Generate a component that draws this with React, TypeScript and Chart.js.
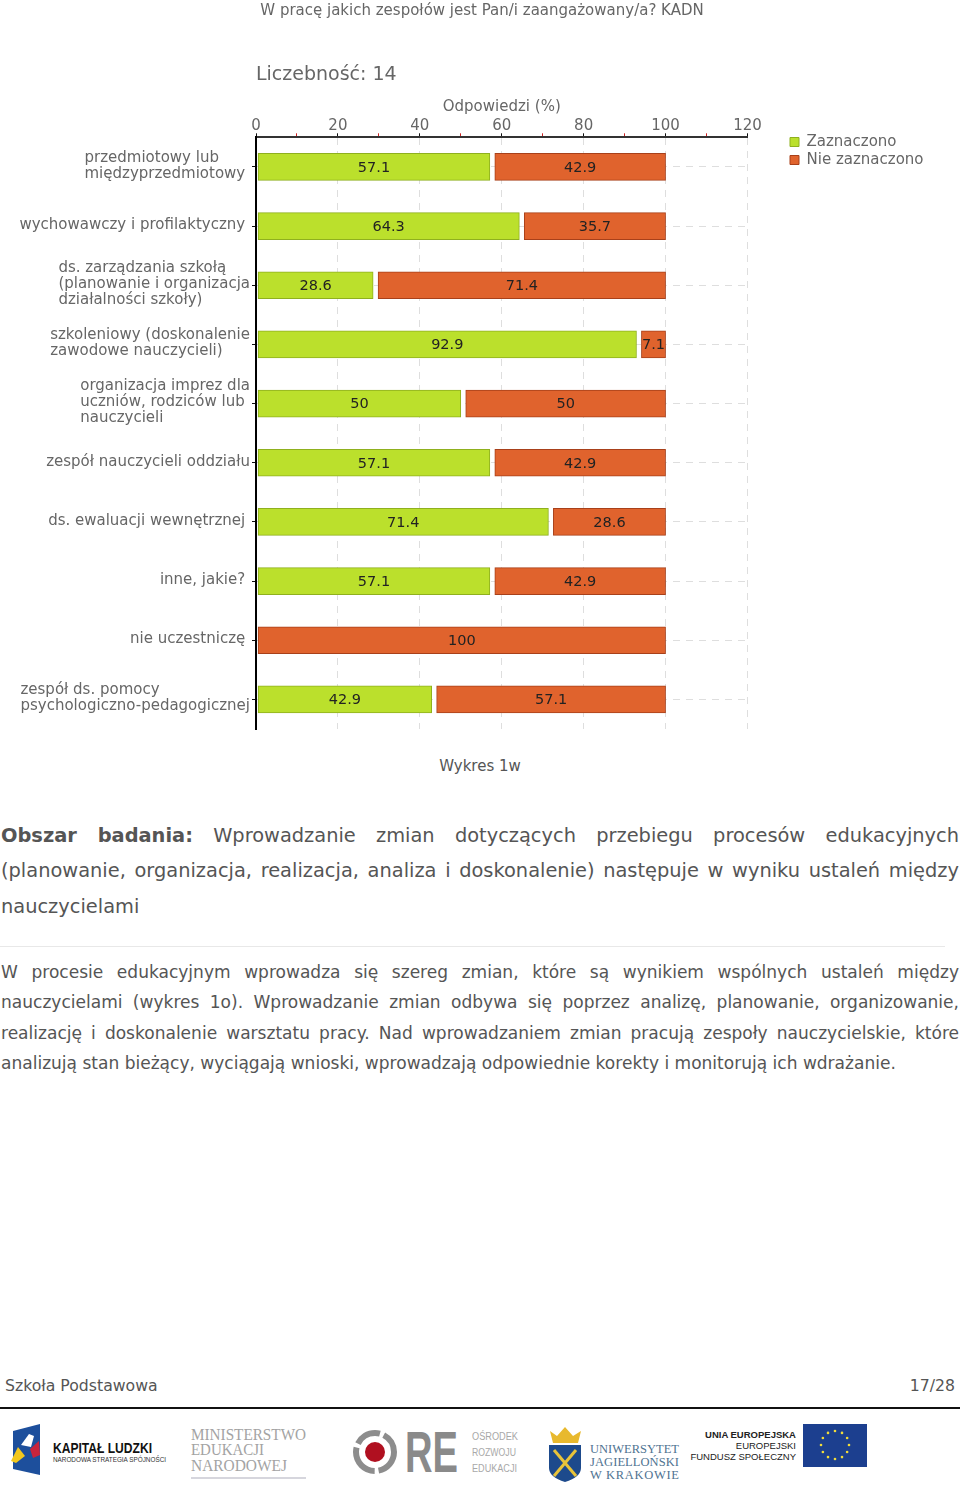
import React, { useEffect, useRef } from "react";
import { Chart, registerables } from "chart.js";

Chart.register(...registerables);

const chartTitle = "W pracę jakich zespołów jest Pan/i zaangażowany/a? KADN";
const countLabel = "Liczebność: 14";
const axisTitle = "Odpowiedzi (%)";
const categories: string[][] = [
  ["przedmiotowy lub", "międzyprzedmiotowy "],
  ["wychowawczy i profilaktyczny "],
  ["ds. zarządzania szkołą", "(planowanie i organizacja", "działalności szkoły)"],
  ["szkoleniowy (doskonalenie", "zawodowe nauczycieli)"],
  ["organizacja imprez dla", "uczniów, rodziców lub", "nauczycieli"],
  ["zespół nauczycieli oddziału"],
  ["ds. ewaluacji wewnętrznej "],
  ["inne, jakie? "],
  ["nie uczestniczę "],
  ["zespół ds. pomocy", "psychologiczno-pedagogicznej"],
];
const checked = [57.1, 64.3, 28.6, 92.9, 50, 57.1, 71.4, 57.1, 0, 42.9];
const unchecked = [42.9, 35.7, 71.4, 7.1, 50, 42.9, 28.6, 42.9, 100, 57.1];
const seriesNames = ["Zaznaczono", "Nie zaznaczono"];
const FONT = "'DejaVu Sans'";
const TEXT = "#666666";
const START_GAP = 0.5;
const MID_GAP = 1.2;

const caption = "Wykres 1w";
const headLines = [
  ["Obszar badania:", " Wprowadzanie zmian dotyczących przebiegu procesów edukacyjnych"],
  ["", "(planowanie, organizacja, realizacja, analiza i doskonalenie) następuje w wyniku ustaleń między"],
  ["", "nauczycielami"],
];
const bodyLines = [
  "W procesie edukacyjnym wprowadza się szereg zmian, które są wynikiem wspólnych ustaleń między",
  "nauczycielami (wykres 1o). Wprowadzanie zmian odbywa się poprzez analizę, planowanie, organizowanie,",
  "realizację i doskonalenie warsztatu pracy. Nad wprowadzaniem zmian pracują zespoły nauczycielskie, które",
  "analizują stan bieżący, wyciągają wnioski, wprowadzają odpowiednie korekty i monitorują ich wdrażanie.",
];

const placeBlocks = {
  id: "placeBlocks",
  afterLayout(chart: any) {
    if (chart.legend) {
      chart.legend.left = 787;
      chart.legend.right = 960;
      chart.legend.width = 173;
      chart.legend.top = 131.5;
    }
    if (chart.titleBlock) {
      chart.titleBlock.left = 0;
      chart.titleBlock.right = 964;
    }
  },
};

const categoryLabels = {
  id: "categoryLabels",
  afterDraw(chart: any) {
    const { ctx } = chart;
    const y = chart.scales.y;
    ctx.save();
    ctx.font = `15px ${FONT}`;
    ctx.fillStyle = TEXT;
    ctx.textBaseline = "middle";
    ctx.textAlign = "left";
    (chart.data.labels as string[][]).forEach((lines, i) => {
      const w = Math.max(...lines.map((l) => ctx.measureText(l).width));
      const left = 250 - w;
      const cy = y.getPixelForValue(i);
      lines.forEach((l, j) => {
        ctx.fillText(l, left, cy + (j - (lines.length - 1) / 2) * 16 - 1);
      });
    });
    ctx.restore();
  },
};

const valueLabels = {
  id: "valueLabels",
  afterDatasetsDraw(chart: any) {
    const { ctx } = chart;
    ctx.save();
    ctx.font = `14.5px ${FONT}`;
    ctx.fillStyle = "#222222";
    ctx.textAlign = "center";
    ctx.textBaseline = "middle";
    chart.data.datasets.forEach((ds: any, di: number) => {
      chart.getDatasetMeta(di).data.forEach((bar: any, i: number) => {
        const v = ds.values[i];
        if (!v) return;
        const p = bar.getProps(["x", "y", "base"], true);
        ctx.fillText(String(v), (p.x + p.base) / 2, p.y + 1);
      });
    });
    ctx.restore();
  },
};

function lineStyle(top: number, size: number): React.CSSProperties {
  return {
    position: "absolute",
    left: 1,
    width: 958,
    top,
    height: size * 1.4,
    lineHeight: `${size * 1.4}px`,
    fontSize: size,
    whiteSpace: "normal",
    textAlign: "justify",
    textAlignLast: "justify",
  };
}

const euStars = Array.from({ length: 12 }, (_, i) => i * 30);

function Logos() {
  const fit = "spacingAndGlyphs";
  return (
    <svg width={960} height={90} viewBox="0 1406 960 90" style={{ position: "absolute", left: 0, top: 1406 }}>
      <polygon points="13,1431 40,1424 40,1475 13,1469" fill="#1d4f9c" />
      <polygon points="29,1434 34,1436 31,1447 21,1445" fill="#ffffff" />
      <polygon points="11,1461 18,1447 25,1456 16,1463" fill="#f2c81e" />
      <polygon points="30,1449 39,1441 40,1455 33,1458" fill="#c8243c" />
      <text x={53} y={1453} fontFamily="'Liberation Sans'" fontWeight="700" fontSize={14.5} fill="#111" textLength={99} lengthAdjust={fit}>KAPITAŁ LUDZKI</text>
      <text x={53} y={1462} fontFamily="'Liberation Sans'" fontSize={7} fill="#333" textLength={113} lengthAdjust={fit}>NARODOWA STRATEGIA SPÓJNOŚCI</text>

      <g fontFamily="'Liberation Serif'" fontSize={17} fill="#a3a3a3">
        <text x={191} y={1440} textLength={115} lengthAdjust={fit}>MINISTERSTWO</text>
        <text x={191} y={1455} textLength={73} lengthAdjust={fit}>EDUKACJI</text>
        <text x={191} y={1471} textLength={96} lengthAdjust={fit}>NARODOWEJ</text>
      </g>
      <line x1={191} x2={306} y1={1478} y2={1478} stroke="#c9c9d2" strokeWidth={1.5} />

      <circle cx={375} cy={1452} r={19} fill="none" stroke="#8d8d8d" strokeWidth={6} strokeDasharray="26 4 34 4 26 4" />
      <circle cx={375} cy={1452} r={10} fill="#b01020" />
      <text x={405} y={1472} fontFamily="'Liberation Sans'" fontWeight="700" fontSize={57} fill="#8a8a8a" textLength={53} lengthAdjust={fit}>RE</text>
      <g fontFamily="'Liberation Sans'" fontSize={10} fill="#a8a8a8">
        <text x={472} y={1440} textLength={46} lengthAdjust={fit}>OŚRODEK</text>
        <text x={472} y={1456} textLength={44} lengthAdjust={fit}>ROZWOJU</text>
        <text x={472} y={1472} textLength={45} lengthAdjust={fit}>EDUKACJI</text>
      </g>

      <polygon points="550,1431 557,1436 565,1427 573,1436 581,1431 578,1443 553,1443" fill="#e8b92e" />
      <path d="M549,1445 H581 V1468 Q581,1477 565,1482 Q549,1477 549,1468 Z" fill="#1d4a8c" />
      <line x1={554} y1={1450} x2={576} y2={1476} stroke="#e8c33a" strokeWidth={3} />
      <line x1={576} y1={1450} x2={554} y2={1476} stroke="#e8c33a" strokeWidth={3} />
      <g fontFamily="'Liberation Serif'" fontSize={12.5} fill="#4f7391">
        <text x={590} y={1453} textLength={89}>UNIWERSYTET</text>
        <text x={590} y={1466} textLength={89}>JAGIELLOŃSKI</text>
        <text x={590} y={1479} textLength={89}>W KRAKOWIE</text>
      </g>

      <g fontFamily="'Liberation Sans'" fontSize={9.5} fill="#222" textAnchor="end">
        <text x={796} y={1438} fontWeight="700">UNIA EUROPEJSKA</text>
        <text x={796} y={1449}>EUROPEJSKI</text>
        <text x={796} y={1460}>FUNDUSZ SPOŁECZNY</text>
      </g>
      <rect x={803} y={1424} width={64} height={43} fill="#1c3f8f" />
      {euStars.map((deg) => (
        <circle
          key={deg}
          cx={835 + 14 * Math.cos((deg * Math.PI) / 180)}
          cy={1445 + 14 * Math.sin((deg * Math.PI) / 180)}
          r={1.3}
          fill="#f2dc3a"
        />
      ))}
    </svg>
  );
}

export default function App() {
  const ref = useRef<HTMLCanvasElement>(null);
  useEffect(() => {
    const chart = new Chart(ref.current as HTMLCanvasElement, {
      type: "bar",
      plugins: [placeBlocks, categoryLabels, valueLabels],
      data: {
        labels: categories as any,
        datasets: [
          {
            label: seriesNames[0],
            values: checked,
            data: checked.map((v) => (v ? [START_GAP, v] : null)),
            backgroundColor: "#BBE02C",
            borderColor: "#8FB01E",
            borderWidth: 1,
            borderSkipped: false,
            barThickness: 27,
            grouped: false,
          },
          {
            label: seriesNames[1],
            values: unchecked,
            data: unchecked.map((v, i) => (checked[i] ? [checked[i] + MID_GAP, checked[i] + v] : [START_GAP, v])),
            backgroundColor: "#E0632D",
            borderColor: "#A8401A",
            borderWidth: 1,
            borderSkipped: false,
            barThickness: 27,
            grouped: false,
          },
        ] as any,
      },
      options: {
        indexAxis: "y",
        animation: false,
        responsive: false,
        layout: { padding: { left: 0, right: 66, top: 2, bottom: 6 } },
        plugins: {
          tooltip: { enabled: false },
          title: {
            display: true,
            text: chartTitle,
            color: TEXT,
            font: { family: FONT, size: 15, weight: "normal" },
            padding: { top: 0, bottom: 0 },
          },
          subtitle: {
            display: true,
            text: countLabel,
            align: "start",
            fullSize: false,
            color: TEXT,
            font: { family: FONT, size: 19, weight: "normal" },
            padding: { top: 44, bottom: 11 },
          },
          legend: {
            display: true,
            position: "right",
            align: "start",
            fullSize: false,
            labels: {
              color: TEXT,
              font: { family: FONT, size: 15 },
              boxWidth: 9,
              boxHeight: 9,
              padding: 3,
            },
          },
        },
        scales: {
          x: {
            position: "top",
            min: 0,
            max: 120,
            title: {
              display: true,
              text: axisTitle,
              color: TEXT,
              font: { family: FONT, size: 15 },
              padding: { top: 0, bottom: 3.5 },
            },
            border: { color: "#333333", width: 2, dash: [7, 6] },
            grid: {
              color: (c: any) => (c.tick && c.tick.value % 20 === 0 && c.tick.value !== 0 ? "#dedede" : "rgba(0,0,0,0)"),
              tickColor: (c: any) => (c.tick && c.tick.value % 20 === 0 ? "#111111" : "#cc2222"),
              tickLength: 4,
              lineWidth: 1,
            } as any,
            ticks: {
              stepSize: 10,
              autoSkip: false,
              maxRotation: 0,
              color: TEXT,
              padding: -2,
              font: { family: FONT, size: 15 },
              callback: (v: any) => (v % 20 === 0 ? String(v) : ""),
            },
          },
          y: {
            offset: true,
            border: { color: "#000000", width: 2, dash: [7, 6] },
            grid: {
              offset: false,
              color: "#dedede",
              tickColor: "#111111",
              tickLength: 4,
            } as any,
            ticks: { display: false },
            afterFit: (s: any) => {
              s.width = 256;
            },
          },
        },
      } as any,
    });
    return () => chart.destroy();
  }, []);

  return (
    <div style={{ position: "absolute", left: 0, top: 0, width: 960, height: 1496, overflow: "hidden", background: "#fff", fontFamily: FONT, color: "#555" }}>
      <canvas ref={ref} width={960} height={735} style={{ position: "absolute", left: 0, top: 0 }} />
      <div style={{ position: "absolute", left: 0, width: 960, top: 757, textAlign: "center", fontSize: 15 }}>{caption}</div>
      {headLines.map(([b, t], i) => (
        <div key={i} style={{ ...lineStyle([822, 857, 893][i], 19.4), textAlignLast: i === 2 ? "left" : "justify" }}>
          {b && <b>{b}</b>}
          {t}
        </div>
      ))}
      <div style={{ position: "absolute", left: 0, top: 946, width: 945, height: 1, background: "#e8e8e8" }} />
      {bodyLines.map((t, i) => (
        <div key={i} style={{ ...lineStyle(961 + i * 30.4, 17.04), textAlignLast: i === 3 ? "left" : "justify" }}>
          {t}
        </div>
      ))}
      <div style={{ position: "absolute", left: 5, top: 1376, fontSize: 15.7 }}>Szkoła Podstawowa</div>
      <div style={{ position: "absolute", right: 5, top: 1376, fontSize: 15.7 }}>17/28</div>
      <div style={{ position: "absolute", left: 0, top: 1407, width: 960, height: 2, background: "#111" }} />
      <Logos />
    </div>
  );
}
